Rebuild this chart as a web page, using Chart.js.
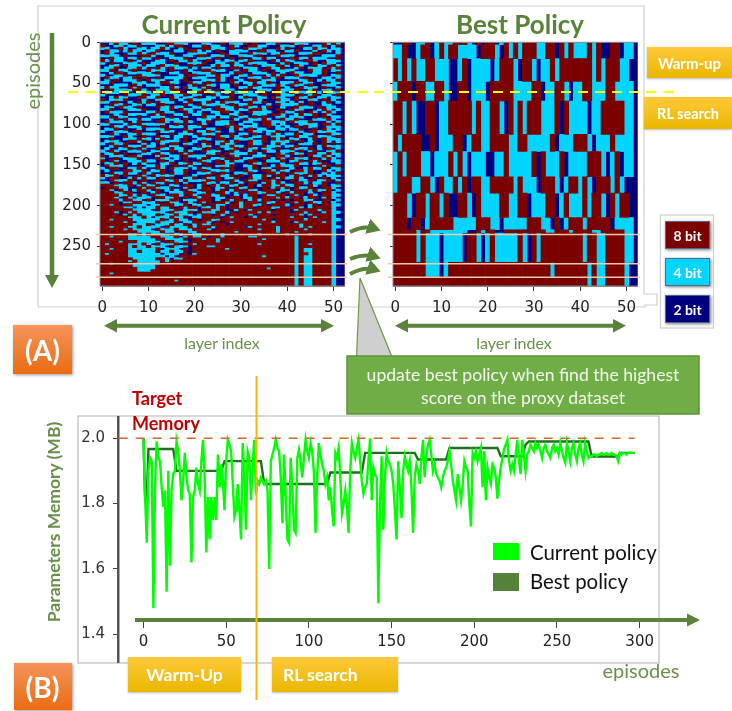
<!DOCTYPE HTML>
<html>
<head>
  <title>Current Policy and Best Policy</title>
  <meta charset="utf-8" />
  <script src="https://cdn.jsdelivr.net/npm/chart.js@4/dist/chart.umd.min.js"></script>
  <style type="text/css">
    html, body { margin: 0; padding: 0; background: #fff; }
    #page { position: relative; width: 732px; height: 711px; overflow: hidden; font-family: Lato, sans-serif; }
    #page canvas, #page svg, .txt, .btn { position: absolute; }
    .txt { white-space: nowrap; color: #6a8f4a; transform: translate(-50%, -50%); }
    .left { transform: translate(0, -50%); }
    .btn { display: flex; align-items: center; justify-content: center; color: #fff; font-weight: bold; box-sizing: border-box; white-space: nowrap; }
    .gold { background: linear-gradient(#ffc93a, #e9b700); font-size: 17.5px; box-shadow: 0 1px 2px #bbb; }
    .tag { background: linear-gradient(#f5935a, #ea6c12); font-size: 28px; box-shadow: 1px 1px 3px #999; }
    .bit { font-size: 14px; left: 665px; width: 45px; height: 28px; box-shadow: 1px 1px 3px #777; border: 1px solid #4a6a90; }
  </style>
</head>
<body>
<div id="page">
  <svg width="732" height="711" style="left:0;top:0">
    <path d="M38 307V6H644V294H657V305H645V307H38" fill="none" stroke="#cfcfcf" stroke-width="1.2"/>
    <rect x="78" y="416" width="581" height="247" fill="none" stroke="#bdbdbd" stroke-width="1.2"/>
    <rect x="660.5" y="215" width="53" height="113" fill="#fff" stroke="#cfcfcf" stroke-width="1.2"/>
  </svg>

  <canvas id="currentChart" width="305" height="292" style="left:40px;top:34px"></canvas>
  <canvas id="bestChart" width="305" height="292" style="left:332.7px;top:34px"></canvas>
  <canvas id="memoryChart" width="581" height="247" style="left:78px;top:416px"></canvas>

  <svg width="732" height="711" style="left:0;top:0">
    <defs>
      <marker id="hd" markerWidth="4" markerHeight="4" refX="2.2" refY="2" orient="auto"><path d="M0 0L3.4 2L0 4z" fill="#5a8239"/></marker>
    </defs>
    <line x1="68" y1="92" x2="675" y2="92" stroke="#ffff00" stroke-width="2" stroke-dasharray="10 7"/>
    <g stroke="#f6c9a5" stroke-width="1.6">
      <line x1="96" y1="234.5" x2="347" y2="234.5"/><line x1="96" y1="263.7" x2="347" y2="263.7"/><line x1="96" y1="277.3" x2="347" y2="277.3"/>
      <line x1="388" y1="234.5" x2="640" y2="234.5"/><line x1="388" y1="263.7" x2="640" y2="263.7"/><line x1="388" y1="277.3" x2="640" y2="277.3"/>
    </g>
    <g fill="none" stroke="#5a8239" stroke-width="4">
      <path d="M350 232Q364 225 376 229" marker-end="url(#hd)"/>
      <path d="M350 259Q364 253 376 257" marker-end="url(#hd)"/>
      <path d="M350 274Q364 266 376 270" marker-end="url(#hd)"/>
    </g>
    <line x1="52" y1="33" x2="52" y2="276" stroke="#5a8239" stroke-width="4.5"/>
    <path d="M45 275H59L52 288z" fill="#5a8239"/>
    <g fill="#5a8239">
      <path d="M104 325.7L117 319V332.5z"/><path d="M334 325.7L321 319V332.5z"/>
      <path d="M395 325.7L408 319V332.5z"/><path d="M626 325.7L613 319V332.5z"/>
      <path d="M687 620L700 613.5V626.5z" transform="rotate(180 693.5 620)"/>
    </g>
    <g stroke="#5a8239" stroke-width="4">
      <line x1="115" y1="325.7" x2="323" y2="325.7"/><line x1="406" y1="325.7" x2="615" y2="325.7"/>
      <line x1="135" y1="620" x2="690" y2="620"/>
    </g>
    <path d="M360 278L356.5 357H392z" fill="#cfcfcf" stroke="#6d9a47" stroke-width="1.2"/>
    <rect x="347" y="356" width="352" height="58" fill="#70ad47" stroke="#5f9439" stroke-width="1.5"/>
    <line x1="256.5" y1="376" x2="256.5" y2="700" stroke="#f4b60f" stroke-width="2"/>
    <rect x="493" y="543" width="26" height="17" fill="#00ff00"/>
    <rect x="493" y="573" width="26" height="18" fill="#568139"/>
  </svg>

  <div class="txt" style="left:224px;top:24px;font-size:26px;font-weight:bold;color:#5a8239">Current Policy</div>
  <div class="txt" style="left:520px;top:24px;font-size:26px;font-weight:bold;color:#5a8239">Best Policy</div>
  <div class="txt" style="left:32px;top:71px;font-size:20px;transform:translate(-50%,-50%) rotate(-90deg)">episodes</div>
  <div class="txt" style="left:222px;top:342px;font-size:16px">layer index</div>
  <div class="txt" style="left:514px;top:342px;font-size:16px">layer index</div>
  <div class="txt" style="left:523px;top:374px;font-size:17.6px;color:#f2f7ee">update best policy when find the highest</div>
  <div class="txt" style="left:523px;top:397px;font-size:17.6px;color:#f2f7ee">score on the proxy dataset</div>
  <div class="txt left" style="left:132px;top:398px;font-size:18px;font-weight:bold;color:#c00000">Target</div>
  <div class="txt left" style="left:132px;top:423px;font-size:18px;font-weight:bold;color:#c00000">Memory</div>
  <div class="txt" style="left:53px;top:522px;font-size:17.5px;font-weight:bold;transform:translate(-50%,-50%) rotate(-90deg)">Parameters Memory (MB)</div>
  <div class="txt" style="left:641px;top:670px;font-size:20px">episodes</div>
  <div class="txt left" style="left:530px;top:552px;font-size:20.4px;color:#111">Current policy</div>
  <div class="txt left" style="left:530px;top:581px;font-size:20.4px;color:#111">Best policy</div>

  <div class="btn gold" style="left:647px;top:47px;width:85px;height:31px;font-size:15px">Warm-up</div>
  <div class="btn gold" style="left:644px;top:97px;width:88px;height:32px;font-size:14.5px">RL search</div>
  <div class="btn gold" style="left:128px;top:657px;width:113px;height:35px">Warm-Up</div>
  <div class="btn gold" style="left:272px;top:657px;width:126px;height:35px;justify-content:flex-start;padding-left:11px">RL search</div>
  <div class="btn bit" style="top:221px;background:#7b0000">8 bit</div>
  <div class="btn bit" style="top:258px;background:#00d5ff">4 bit</div>
  <div class="btn bit" style="top:295px;background:#00007f">2 bit</div>
  <div class="btn tag" style="left:13px;top:325px;width:59px;height:49px">(A)</div>
  <div class="btn tag" style="left:13.5px;top:663px;width:58px;height:47px">(B)</div>
</div>

<script>
  // layer tick labels and episode tick labels
  var layerTicks = [0, 10, 20, 30, 40, 50];
  var episodeTicks = [0, 50, 100, 150, 200, 250];
  var bitValues = [8, 4, 2];
  var bitColors = ["#7b0000", "#00d5ff", "#00007f"];

  // Current policy, one string per 3 episodes, one digit per layer (bits)
  var currentRowSpan = 3;
  var currentRows = [
    "2248442824 4422884442 2244228244 4828224482 2844422284 842",
    "8224424482 2244248822 4482442284 2288442224 4428224482 482",
    "4422842244 2448422482 2288444282 2844422284 8222448442 442",
    "2844248442 4482224428 8424282244 4422884422 4482224284 242",
    "2842224484 2844482224 4442228244 2284442448 2224448822 242",
    "4444282228 8422442244 2882444822 4442822284 4422282244 482",
    "2284424484 4282244482 2444282282 8224484422 2884424442 282",
    "8424428242 2244282448 4228242442 4482222848 4422884224 442",
    "4282244428 2444228224 4482244284 2844442224 8244428284 422",
    "2244284442 4428444228 2822484424 4228244482 4284228442 842",
    "2448224484 2284284442 4244282288 2444228448 2248244428 482",
    "4482442822 8444282284 2288444224 2844282244 4422284482 442",
    "2248824444 4282244282 4444822248 8224442824 2844224482 282",
    "4224482284 4442222428 8224484422 4482224848 2284444282 442",
    "2844244828 2282444482 4442284224 2244482482 4442822244 242",
    "2428244482 8444224282 2244484282 4288244422 2224482424 482",
    "4482222444 2248844228 4428222284 2442448224 4482442282 442",
    "2224442842 4442282224 8284424428 2248244484 2844282244 422",
    "4844228482 2224484284 4248224422 4484422282 4228444282 242",
    "2284444824 2844428222 4484282442 2822444284 4482248244 282",
    "8444282244 4228442824 2882442484 4242282844 2844422482 442",
    "4222284448 2448224482 4422842282 2444282284 4428248244 282",
    "2248442288 4482284244 2824424482 4822442844 2284482442 442",
    "8244482224 2244482428 4444222882 2448422284 4282244282 422",
    "4428224284 8284442248 2248248444 2284482244 2424282248 242",
    "2284482442 4428222284 2844444282 4482224284 4448282244 222",
    "2442844282 2284484422 4482284448 2844248224 2284442824 422",
    "4482224448 2224482844 2244288442 4428842282 2844222484 242",
    "2844482222 4482442284 2422448824 2284444228 4428284248 422",
    "2224284444 2848224482 4482242244 8224442884 2248448284 222",
    "4482442282 2444282242 2284424482 4428282244 2444228282 442",
    "2248284424 4228444282 2444282224 2844484228 4482224448 422",
    "2844422482 2288424484 2248244482 2442288444 2844482224 242",
    "4422248284 4444228282 2842244482 4224288424 2224444288 482",
    "2284424448 2228244424 4482222848 2444228242 4282844224 442",
    "2448282242 4444822284 2224482248 4282442244 2448228284 242",
    "4224442882 2284442248 2448242242 2284424482 2224288444 422",
    "2284224484 4422282444 2844482282 4428224842 4482442228 442",
    "4442284228 2284424482 4228284484 2824482444 2284428444 282",
    "2282244484 4248224282 2444288224 4442282848 2442248284 442",
    "2444228848 2284444282 4282244848 2284482444 4828242284 242",
    "4284482224 2424288244 2248248442 2284422484 2224448282 822",
    "2248284448 4428244282 2844224484 4282284442 4482222484 442",
    "2422448284 2284484422 4428282448 2844244282 2844482428 242",
    "4284224448 2442282484 2284442284 2248284424 4428248224 482",
    "2448282224 4284422848 2224482844 4482422284 2844282448 442",
    "8244428842 2248244284 4448228284 2224448288 4228284484 242",
    "4228244482 2284424282 2482444828 2442282484 2844428248 422",
    "8284224448 4428242282 2844282484 4288224448 2448284822 442",
    "2448282424 2224482448 4482288442 2284482224 2284424482 242",
    "2844482282 4484228284 2228244482 2448282484 4482222848 282",
    "4288224484 2284284442 4844228282 2248244288 2422484482 442",
    "2422288448 2448224482 2282444482 2844288424 4288482284 242",
    "2284484428 4228284482 2444828224 4482228848 2844482242 482",
    "8448282284 2844442282 4228284482 8224484288 2482848424 442",
    "4288224848 4428282244 8284482448 2284482848 4484228282 422",
    "2284448228 2288448484 4448282284 2844288482 2824482448 242",
    "4428288484 2844828242 2284424482 4288248484 2288424482 282",
    "8884448248 4482244288 2482848244 8282488448 4482284282 442",
    "2888442284 8844482248 2488244828 4482282484 8284482288 422",
    "8842842488 4282424284 4288248248 2844288824 4282848448 242",
    "8884488228 2482244488 2448288424 8288448842 8488242288 422",
    "8888448484 2844288428 4288448224 2488284488 2848284288 442",
    "8884284244 4288448282 8488244288 2448288848 4882488248 422",
    "8888488442 8244488244 4888242848 8248488282 8288442288 242",
    "8888244884 4482844284 2848288428 4888284488 2848284482 422",
    "8848288444 2448884482 4482844288 4884482888 4288248288 442",
    "8888844242 4484482848 8244848288 4882888448 2884248888 422",
    "8888888444 4284448244 4288448224 8248888288 8248888488 422",
    "8884284844 4444284448 2844488482 8888484888 8288488248 442",
    "8888248484 4482448444 2488284288 8842888288 8884248888 422",
    "8888884448 4244484482 4488882848 8284888888 8488284888 422",
    "8848888444 4448248442 8288448888 8888848288 8888488888 442",
    "8888848244 4484448244 8884282848 8888888488 8248888848 422",
    "8888888444 8244484482 4844888288 8888488888 8884888888 422",
    "8848884484 4442844448 4888488888 8248888848 8884848888 442",
    "8888848444 4284448444 8884288888 8888488848 8888488888 422",
    "8888888844 4448442884 4888888884 8888888848 8848888888 422",
    "8888884484 8444284482 4488884888 8888488888 4888848888 422",
    "8848884444 4884448248 4482884888 8844888888 8848888888 422",
    "8888884444 4488444482 8848848888 8888848888 8848888888 422",
    "8888488844 4442884442 8888848888 8888888888 8848888888 422",
    "8488884448 4284448288 4888888888 8888488888 8848848888 422",
    "8888884844 8444284442 8884488888 8888888888 8848888888 422",
    "8848884444 4482444282 8888888488 8888888888 8848448888 422",
    "8888884484 4484484482 8888888888 8888888888 8848448888 422",
    "8488884444 4442444282 4888888888 8888888888 8848848888 422",
    "8888884444 4444242888 8888888888 8888848888 8848448888 422",
    "8888888444 4488424488 8888888888 8888888888 8848448888 422",
    "8888884844 4448488888 8888888888 8888888888 8848448888 422",
    "8848888444 4448888888 8888888888 8888888888 8848448888 422",
    "8888888444 4488888888 8888888888 8888888888 8848448888 422",
    "8888888844 4488888888 8888888888 8888884888 8848448888 422",
    "8888888844 4888888888 8888888888 8888888888 8848448888 422",
    "8848888888 8888888888 8888888888 8888888888 8848448888 422",
    "8888888888 8888888888 8888888888 8888888888 8848448888 422",
    "8888888888 8888888888 8888888888 8888888888 8848448888 422",
    "8888888888 8888884888 8888888888 8888888888 8848448888 422",
    "8888888888 8888888888 8888888888 8888888888 8848448888 422",
    "8888888888 8888888888 8888888888 8888888888 8848448888 422"
  ];

  // Best policy, first episode of each update and the policy kept from there on
  var bestStarts = [0, 3, 20, 48, 72, 113, 134, 165, 185, 215, 230, 234, 270, 288, 299];
  var bestRows = [
    "2288244824 8448884282 8824848488 8448828484 4484822882 442",
    "4482248824 8488444428 8842848488 8448828484 4484822882 442",
    "8484844884 4422482444 4248884288 4244848888 8884848884 422",
    "4888288448 8422882444 2888884444 8824488424 4884448844 442",
    "8848422882 4488888484 4884284848 8844482844 4424488888 442",
    "8488882282 4448824884 4888844884 4444824448 8842444844 442",
    "4848884424 4484842444 2244844444 8284448244 4488842482 442",
    "4888448842 8448482884 4888884844 4288842488 4842888484 222",
    "8884288488 4822884284 4448844882 4448824844 4848842848 822",
    "8882882488 8884444488 8442444448 8844282488 8488888244 442",
    "8888848844 4444442284 8822888888 8884488848 8884488888 442",
    "8888848444 2444428842 4844444842 8488888888 8488448888 442",
    "8888888444 2488888888 8888888888 8888488888 8848448888 422",
    "8888888888 8888888888 8888888888 8888888888 8848448888 422"
  ];

  // Parameters memory per episode (MB)
  var currentMemory = [
    2.00,1.82,1.68,1.90,1.94,1.93,1.48,1.85,1.99,1.94,
    1.93,1.85,1.79,1.84,1.53,1.90,1.61,1.84,1.89,1.90,
    1.99,1.96,1.90,1.81,1.87,1.955,1.88,1.84,1.83,1.62,
    1.82,1.84,1.91,1.86,1.84,1.93,1.995,1.88,1.65,1.82,
    1.69,1.82,1.75,1.82,1.75,1.95,1.85,1.92,1.87,1.78,
    1.93,1.995,1.98,1.96,1.86,1.76,1.78,1.86,1.78,1.69,
    1.985,1.88,1.72,1.96,1.94,1.81,1.92,1.995,1.83,1.87,
    1.86,1.88,1.87,1.86,1.87,1.84,1.60,1.93,1.95,1.97,
    1.995,1.97,1.96,1.88,1.74,1.95,1.82,1.69,1.68,1.94,
    1.85,1.72,1.71,1.94,1.965,1.93,1.88,1.94,1.995,1.96,
    1.94,1.985,1.96,1.90,1.71,1.88,1.985,1.95,1.92,1.90,
    1.86,1.88,1.81,1.85,1.78,1.73,1.955,1.94,1.97,1.88,
    1.77,1.80,1.84,1.79,1.71,1.90,1.985,1.96,1.94,1.97,
    1.995,1.93,1.87,1.83,1.85,1.86,1.93,2.00,1.81,1.91,
    1.89,1.88,1.495,1.80,1.945,1.72,1.88,1.955,1.93,1.92,
    1.90,1.86,1.78,1.69,1.93,1.85,1.755,1.90,1.945,1.92,
    1.90,1.93,1.85,1.71,1.88,1.92,1.90,1.86,1.94,1.995,
    1.88,1.95,1.98,1.995,1.95,1.90,1.92,1.89,1.88,1.87,
    1.85,1.88,1.90,1.91,1.93,1.96,1.92,1.87,1.84,1.81,
    1.89,1.85,1.81,1.86,1.93,1.91,1.90,1.80,1.73,1.955,
    1.94,1.96,1.93,1.95,1.97,1.85,1.96,1.81,1.91,1.88,
    1.86,1.92,1.91,1.88,1.815,1.87,1.91,1.94,1.965,1.98,
    1.995,1.93,1.90,1.92,1.90,1.95,1.995,1.93,1.89,1.995,
    1.95,1.90,1.95,1.96,1.98,1.97,1.96,1.985,1.97,1.98,
    1.96,1.94,1.97,1.98,1.96,1.95,1.94,1.97,1.98,1.96,
    1.97,1.95,1.985,1.96,1.94,1.925,1.985,1.96,1.93,1.97,
    1.985,1.95,1.93,1.97,1.985,1.95,1.93,1.985,1.96,1.94,
    1.945,1.945,1.95,1.95,1.945,1.95,1.95,1.955,1.95,1.95,
    1.955,1.95,1.95,1.955,1.95,1.95,1.945,1.93,1.955,1.95,
    1.955,1.955,1.95,1.955,1.955,1.955,1.955,1.955
  ];
  var bestEpisodes = [0,1,2,3,18,20,47,49,71,73,111,113,132,134,164,166,183,185,214,216,229,231,233,269,271,287,288,297];
  var bestMemory = [2.0,1.81,1.815,1.967,1.967,1.90,1.90,1.93,1.93,1.86,1.86,1.895,1.895,1.955,1.955,1.935,1.935,1.97,1.97,1.945,1.945,1.98,1.99,1.99,1.944,1.944,1.955,1.955];
  var targetEpisodes = [-15, 297];
  var targetMemory = [2.0, 2.0];
  var memoryTicks = [1.4, 1.6, 1.8, 2.0];
  var episodeAxisTicks = [0, 50, 100, 150, 200, 250, 300];

  Chart.defaults.font.family = "'DejaVu Sans', sans-serif";
  Chart.defaults.font.size = 15;
  Chart.defaults.color = "#222";
  Chart.defaults.animation = false;

  function setTicks(values) {
    return function(scale) { scale.ticks = values.map(function(v) { return {value: v}; }); };
  }
  function fixBox(w, h) {
    return function(scale) {
      if (w) scale.width = w;
      if (h) scale.height = h;
      scale.paddingLeft = scale.paddingRight = scale.paddingTop = scale.paddingBottom = 0;
    };
  }

  // merge equal neighbours in each column into one floating bar
  function columnBars(starts, rows, bit) {
    var bars = [];
    for (var c = 0; c < 53; c++) {
      var from = null;
      for (var r = 0; r <= rows.length; r++) {
        var same = r < rows.length && rows[r].replace(/ /g, "")[c] == bit;
        if (same && from === null) from = starts[r] - 0.5;
        if (!same && from !== null) {
          bars.push({x: c, y: [from, starts[r] - 0.5]});
          from = null;
        }
      }
    }
    return bars;
  }

  var framePlugin = {
    id: "frame",
    afterDraw: function(chart) {
      var a = chart.chartArea, ctx = chart.ctx;
      ctx.save();
      ctx.strokeStyle = "#8a8a8a";
      ctx.lineWidth = 1;
      ctx.strokeRect(a.left, a.top, a.right - a.left, a.bottom - a.top);
      ctx.restore();
    }
  };

  function heatmap(id, starts, rows, yLabels) {
    new Chart(document.getElementById(id), {
      type: "bar",
      data: {
        datasets: bitValues.map(function(bit, i) {
          return {
            label: bit + " bit",
            data: columnBars(starts, rows, bit),
            backgroundColor: bitColors[i],
            grouped: false,
            categoryPercentage: 1,
            barPercentage: 1
          };
        })
      },
      options: {
        responsive: false,
        layout: {padding: {top: 8.3, left: 0, right: 0, bottom: 0}},
        plugins: {legend: {display: false}, tooltip: {enabled: false}},
        scales: {
          x: {
            type: "linear", min: -0.5, max: 52.5, stacked: true, offset: false,
            afterBuildTicks: setTicks(layerTicks),
            afterFit: fixBox(0, 40),
            grid: {offset: false, drawOnChartArea: false, tickLength: 5, color: "#333"},
            border: {color: "#8a8a8a"},
            ticks: {maxRotation: 0, autoSkip: false, padding: 8}
          },
          y: {
            type: "linear", reverse: true, min: -0.5, max: 298.5,
            afterBuildTicks: setTicks(episodeTicks),
            afterFit: fixBox(60, 0),
            grid: {drawOnChartArea: false, tickLength: 3, color: "#333"},
            border: {color: "#8a8a8a"},
            ticks: {display: yLabels, autoSkip: false, padding: 6}
          }
        }
      },
      plugins: [framePlugin]
    });
  }

  var currentStarts = currentRows.map(function(r, i) { return i * currentRowSpan; });
  currentStarts.push(currentRows.length * currentRowSpan);
  heatmap("currentChart", currentStarts, currentRows, true);
  heatmap("bestChart", bestStarts, bestRows, false);

  new Chart(document.getElementById("memoryChart"), {
    type: "line",
    data: {
      datasets: [
        {
          label: "Target Memory",
          data: targetEpisodes.map(function(x, i) { return {x: x, y: targetMemory[i]}; }),
          borderColor: "#d2692a", borderWidth: 1.6, borderDash: [9, 8], pointRadius: 0
        },
        {
          label: "Current policy",
          data: currentMemory.map(function(v, i) { return {x: i, y: v}; }),
          borderColor: "#00ff00", borderWidth: 2.4, pointRadius: 0, tension: 0
        },
        {
          label: "Best policy",
          data: bestEpisodes.map(function(x, i) { return {x: x, y: bestMemory[i]}; }),
          borderColor: "#1d701d", borderWidth: 2.4, pointRadius: 0, tension: 0
        }
      ]
    },
    options: {
      responsive: false,
      layout: {padding: 0},
      plugins: {legend: {display: false}, tooltip: {enabled: false}},
      scales: {
        x: {
          type: "linear", axis: "x", min: -15.4, max: 304.6, position: {y: 1.444},
          afterBuildTicks: setTicks(episodeAxisTicks),
          grid: {drawOnChartArea: false, tickLength: 8, color: "#444"},
          border: {display: false},
          ticks: {maxRotation: 0, autoSkip: false, padding: 5}
        },
        y: {
          type: "linear", min: 1.312, max: 2.068,
          afterBuildTicks: setTicks(memoryTicks),
          afterFit: fixBox(40, 0),
          grid: {drawOnChartArea: false, tickLength: 5, color: "#444"},
          border: {color: "#555", width: 2.5},
          ticks: {
            autoSkip: false, padding: 8, color: "#333",
            callback: function(v) { return v.toFixed(1); }
          }
        }
      }
    }
  });
</script>
</body>
</html>
